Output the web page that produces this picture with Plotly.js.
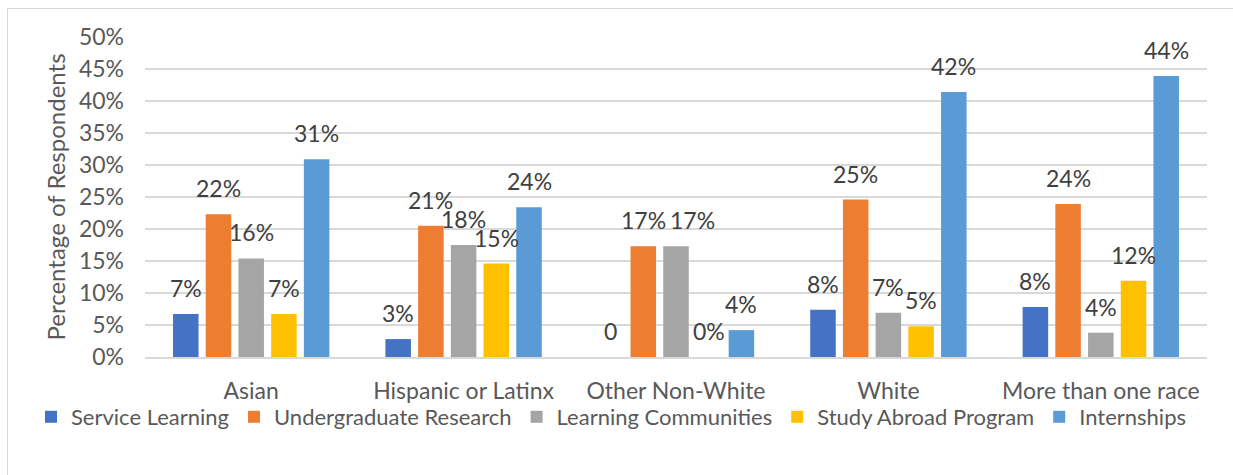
<!DOCTYPE html>
<html>
<head>
<meta charset="utf-8">
<script src="https://cdn.plot.ly/plotly-3.0.1.min.js"></script>
<style>
  html, body { margin: 0; padding: 0; background: #fff; }
  #wrap { position: relative; width: 1233px; height: 475px; }
  #chart { width: 1233px; height: 475px; }
  #frame { position: absolute; left: 7px; top: 8px; right: -2px; bottom: -2px;
           border-top: 1.5px solid #d9d9d9; border-left: 1.5px solid #d9d9d9; pointer-events: none; }
</style>
</head>
<body>
<div id="wrap"><div id="chart"></div><div id="frame"></div></div>
<script>
// ---- data ----
const categories = ["Asian", "Hispanic or Latinx", "Other Non-White", "White", "More than one race"];
const seriesNames = ["Service Learning", "Undergraduate Research", "Learning Communities", "Study Abroad Program", "Internships"];
const serviceLearning      = [6.7, 2.8, 0.0, 7.4, 7.8];
const undergradResearch    = [22.3, 20.5, 17.3, 24.6, 23.9];
const learningCommunities  = [15.4, 17.5, 17.3, 6.9, 3.8];
const studyAbroad          = [6.7, 14.6, 0.0, 4.8, 11.9];
const internships          = [30.9, 23.4, 4.2, 41.4, 43.9];
const serviceLearningLabels     = ["7%", "3%", "0", "8%", "8%"];
const undergradResearchLabels   = ["22%", "21%", "17%", "25%", "24%"];
const learningCommunitiesLabels = ["16%", "18%", "17%", "7%", "4%"];
const studyAbroadLabels         = ["7%", "15%", "0%", "5%", "12%"];
const internshipsLabels         = ["31%", "24%", "4%", "42%", "44%"];
const yTickVals = [0, 5, 10, 15, 20, 25, 30, 35, 40, 45, 50];
const yTickText = ["0%", "5%", "10%", "15%", "20%", "25%", "30%", "35%", "40%", "45%", "50%"];

// ---- styling ----
const values = [serviceLearning, undergradResearch, learningCommunities, studyAbroad, internships];
const labels = [serviceLearningLabels, undergradResearchLabels, learningCommunitiesLabels, studyAbroadLabels, internshipsLabels];
const colors = ["#4472C4", "#ED7D31", "#A5A5A5", "#FFC000", "#5B9BD5"];
const FONT = "Lato, 'Noto Sans', sans-serif";
const W = 1233, H = 475;
const margin = {l: 145, r: 26, t: 37, b: 118, pad: 0};
const bargap = 0.23, bargroupgap = 0.22;
const plotW = W - margin.l - margin.r;
const catW = plotW / categories.length;
const pitch = catW * (1 - bargap) / seriesNames.length;
// label nudges (px) to keep neighbouring labels apart, keyed "series,category"
const labelNudge = {"2,2": 16};

const traces = seriesNames.map((name, i) => ({
  type: "bar",
  name: name,
  x: categories,
  y: values[i],
  marker: {color: colors[i], line: {width: 0}},
  hoverinfo: "none"
}));

const annotations = [];
seriesNames.forEach((name, i) => {
  categories.forEach((c, j) => {
    annotations.push({
      x: c, y: values[i][j], xref: "x", yref: "y",
      text: labels[i][j], showarrow: false,
      xanchor: "center", yanchor: "bottom",
      xshift: (i - (seriesNames.length - 1) / 2) * pitch + (labelNudge[i + "," + j] || 0),
      yshift: 10,
      font: {family: FONT, size: 23, color: "#404040"}
    });
  });
});

const layout = {
  width: W, height: H,
  margin: margin,
  paper_bgcolor: "rgba(0,0,0,0)",
  plot_bgcolor: "#fff",
  barmode: "group",
  bargap: bargap,
  bargroupgap: bargroupgap,
  font: {family: FONT, size: 23, color: "#595959"},
  showlegend: true,
  legend: {
    orientation: "h",
    x: (31 - margin.l) / plotW, xanchor: "left",
    y: (357 - 417) / (H - margin.t - margin.b), yanchor: "middle",
    font: {family: FONT, size: 22, color: "#595959"},
    traceorder: "normal",
    itemclick: false, itemdoubleclick: false
  },
  xaxis: {
    type: "category",
    showgrid: false,
    showline: true, linecolor: "#d9d9d9", linewidth: 1.5,
    ticks: "", ticklabelstandoff: 13,
    tickfont: {family: FONT, size: 23, color: "#595959"},
    fixedrange: true
  },
  yaxis: {
    range: [0, 50],
    tickvals: yTickVals, ticktext: yTickText,
    showgrid: true, gridcolor: "#d9d9d9", gridwidth: 1.5,
    zeroline: false, showline: false,
    ticks: "", ticklabelstandoff: 20,
    tickfont: {family: FONT, size: 23, color: "#595959"},
    title: {text: "Percentage of Respondents", standoff: 6,
            font: {family: FONT, size: 24, color: "#595959"}},
    fixedrange: true
  },
  annotations: annotations
};

Plotly.newPlot("chart", traces, layout, {displayModeBar: false, staticPlot: true});
</script>
</body>
</html>
